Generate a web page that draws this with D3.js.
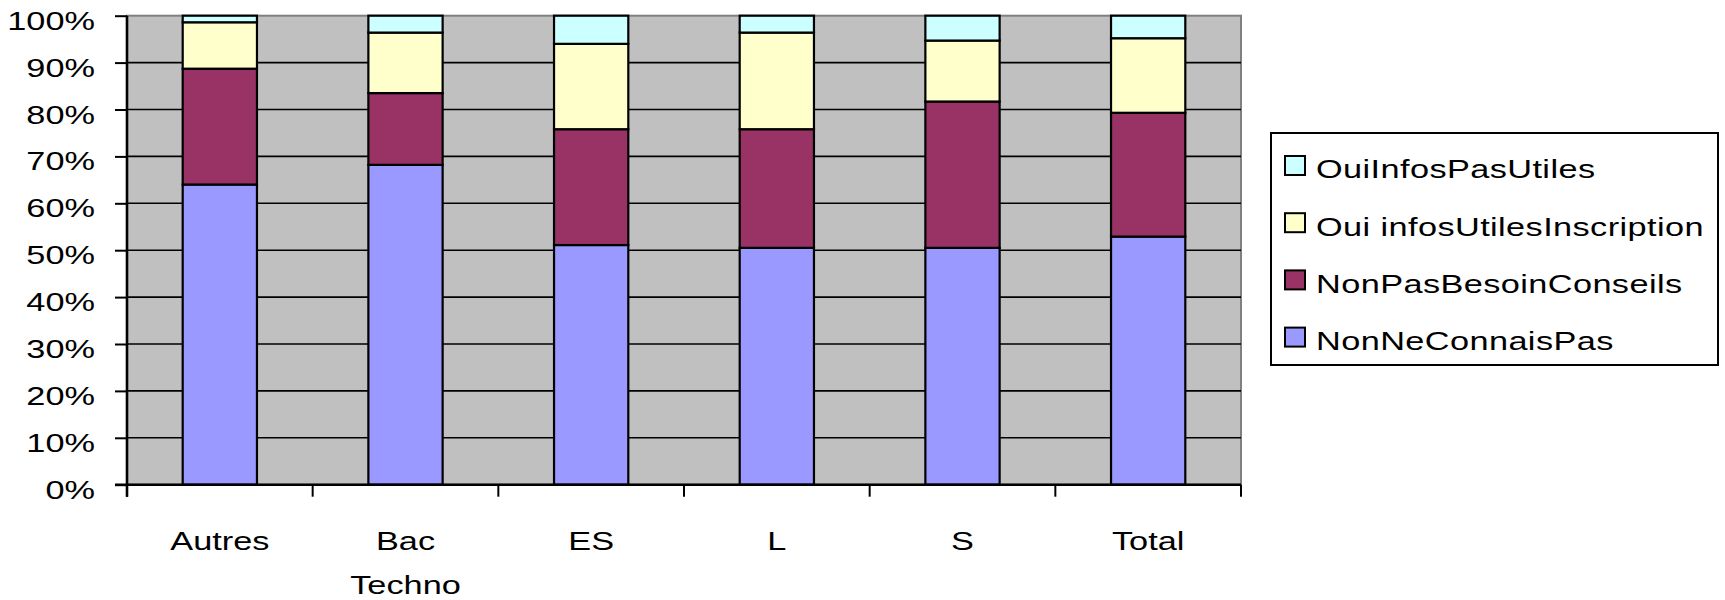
<!DOCTYPE html>
<html>
<head>
<meta charset="utf-8">
<script src="https://cdn.jsdelivr.net/npm/d3@7"></script>
<style>
  html, body { margin: 0; padding: 0; background: #fff; }
  svg { display: block; }
  text { font-family: "Liberation Sans", Arial, sans-serif; fill: #000; }
</style>
</head>
<body>
<svg id="chart" width="1725" height="600"></svg>
<script>
const categories = ["Autres", "Bac Techno", "ES", "L", "S", "Total"];
const seriesNames = ["NonNeConnaisPas", "NonPasBesoinConseils", "Oui infosUtilesInscription", "OuiInfosPasUtiles"];
const nonNeConnaisPas = [64.0, 68.2, 51.1, 50.5, 50.5, 52.9];
const nonPasBesoinConseils = [24.7, 15.3, 24.7, 25.3, 31.2, 26.4];
const ouiInfosUtilesInscription = [9.9, 12.9, 18.2, 20.6, 13.0, 15.9];
const ouiInfosPasUtiles = [1.4, 3.6, 6.0, 3.6, 5.3, 4.8];
const seriesColors = ["#9999FF", "#993366", "#FFFFCC", "#CCFFFF"];
const yTicks = [0, 10, 20, 30, 40, 50, 60, 70, 80, 90, 100];

const seriesValues = [nonNeConnaisPas, nonPasBesoinConseils, ouiInfosUtilesInscription, ouiInfosPasUtiles];
const rows = categories.map((c, i) => {
  const r = { cat: c };
  seriesNames.forEach((s, j) => r[s] = seriesValues[j][i]);
  return r;
});

(function () {
const svg = d3.select("#chart");
const pLeft = 127, pRight = 1241, pTop = 15.7, pBottom = 484.7;
const SX = 1.32, FS = 26;

const x = d3.scaleBand().domain(categories).range([pLeft, pRight]).paddingInner(0.6).paddingOuter(0.3);
const y = d3.scaleLinear().domain([0, 100]).range([pBottom, pTop]);

// plot background
svg.append("rect").attr("x", pLeft).attr("y", pTop).attr("width", pRight - pLeft).attr("height", pBottom - pTop)
  .attr("fill", "#C0C0C0").attr("stroke", "#808080").attr("stroke-width", 2);

// gridlines
svg.append("g").selectAll("line").data(yTicks.filter(t => t > 0 && t < 100)).join("line")
  .attr("x1", pLeft).attr("x2", pRight).attr("y1", d => y(d)).attr("y2", d => y(d))
  .attr("stroke", "#000").attr("stroke-width", 1.6);

// bars
const stack = d3.stack().keys(seriesNames)(rows);
svg.append("g").selectAll("g").data(stack).join("g")
  .attr("fill", (d, i) => seriesColors[i])
  .selectAll("rect").data(d => d).join("rect")
  .attr("x", d => x(d.data.cat))
  .attr("width", x.bandwidth())
  .attr("y", d => y(d[1]))
  .attr("height", d => y(d[0]) - y(d[1]))
  .attr("stroke", "#000").attr("stroke-width", 2.2);

// y axis
const yAxis = d3.axisLeft(y).tickValues(yTicks).tickSize(12).tickFormat(d => d + "%");
const gy = svg.append("g").attr("transform", `translate(${pLeft},0)`).call(yAxis);
gy.select(".domain").attr("stroke", "#000").attr("stroke-width", 2.6).attr("d", `M0,${pBottom + 12}V${pTop}`);
gy.selectAll(".tick line").attr("stroke", "#000").attr("stroke-width", 2);
gy.selectAll(".tick text").remove();
gy.selectAll(".tick").append("g")
  .attr("transform", `translate(-32,13.5) scale(${SX},1)`)
  .append("text").attr("text-anchor", "end").style("font-size", FS + "px")
  .text(d => d + "%");

// x axis
const xEdge = d3.scaleLinear().domain([0, categories.length]).range([pLeft, pRight]);
const gx = svg.append("g").attr("transform", `translate(0,${pBottom})`);
gx.append("line").attr("x1", pLeft - 12).attr("x2", pRight).attr("y1", 0).attr("y2", 0)
  .attr("stroke", "#000").attr("stroke-width", 2.6);
gx.selectAll("line.tk").data(d3.range(categories.length + 1)).join("line").attr("class", "tk")
  .attr("x1", d => xEdge(d)).attr("x2", d => xEdge(d)).attr("y1", 0).attr("y2", 12)
  .attr("stroke", "#000").attr("stroke-width", 2);
const labels = gx.selectAll("g.lab").data(categories).join("g").attr("class", "lab");
labels.each(function (c) {
  const parts = c.split(" ");
  parts.forEach((p, k) => {
    d3.select(this).append("g")
      .attr("transform", `translate(${x(c) + x.bandwidth() / 2},${550 - pBottom + k * 44}) scale(${SX},1)`)
      .append("text").attr("text-anchor", "middle").style("font-size", FS + "px").text(p);
  });
});

// legend
const lg = svg.append("g");
lg.append("rect").attr("x", 1271).attr("y", 133).attr("width", 447).attr("height", 232)
  .attr("fill", "#fff").attr("stroke", "#000").attr("stroke-width", 2);
const legendOrder = seriesNames.map((s, i) => ({ name: s, color: seriesColors[i] })).reverse();
const items = lg.selectAll("g.item").data(legendOrder).join("g").attr("class", "item")
  .attr("transform", (d, i) => `translate(0,${i * 57.2})`);
items.append("rect").attr("x", 1285).attr("y", 156).attr("width", 20).attr("height", 19)
  .attr("fill", d => d.color).attr("stroke", "#000").attr("stroke-width", 2);
items.append("g").attr("transform", `translate(1316,178.3) scale(${SX},1)`)
  .append("text").style("font-size", FS + "px").style("letter-spacing", "0.3px").text(d => d.name);
})();
</script>
</body>
</html>
